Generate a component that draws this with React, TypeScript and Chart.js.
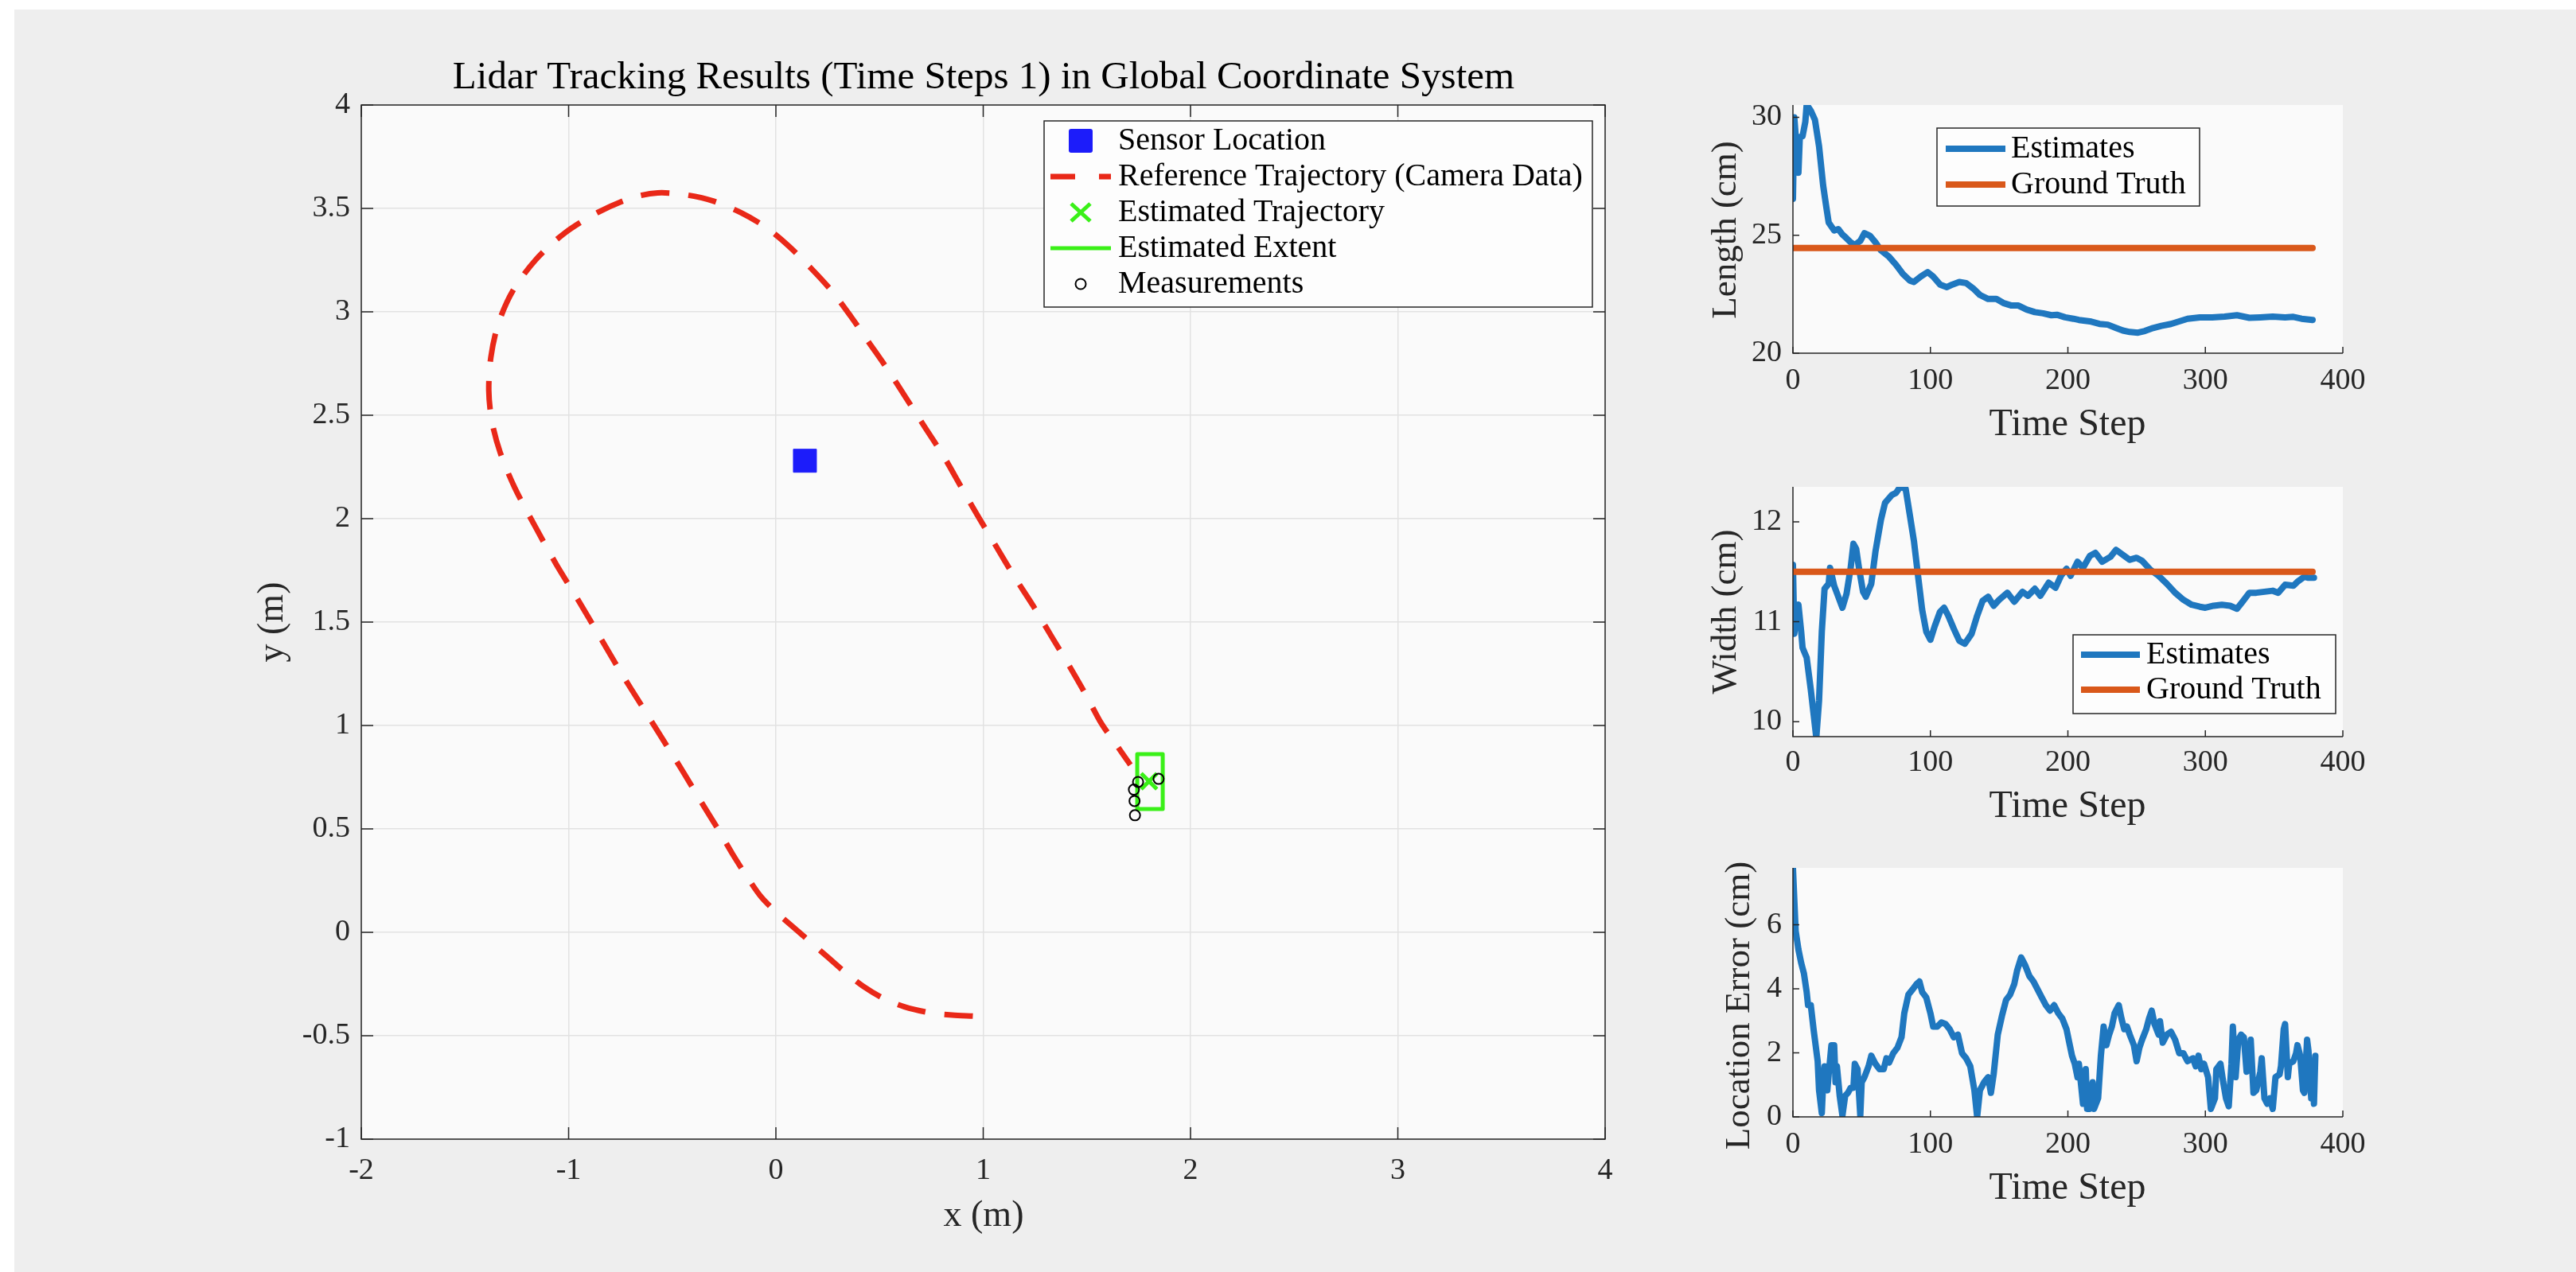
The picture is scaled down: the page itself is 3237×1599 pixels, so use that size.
import React, { useEffect, useRef } from "react";
import { Chart, registerables } from "chart.js";

Chart.register(...registerables);

const FONT = '"Liberation Serif", "Times New Roman", Times, serif';
const AXIS = "#262626";
const TEXT = "#262626";
const GRID = "#e2e2e2";
const BLUE = "rgb(31,119,191)";
const ORANGE = "rgb(217,88,26)";
const RED = "rgb(233,40,24)";
const GREEN = "rgb(58,240,24)";
const SENSOR = "rgb(28,28,250)";
const PLOT_BG = "#fafafa";
const FIG_BG = "#eeeeee";
const TICK_SIZE = 38;

// ---------------- Main plot data ----------------
const refX = [0.95, 0.85, 0.75, 0.62, 0.52, 0.42, 0.33, 0.25, 0.17, 0.09, 0.01, -0.07, -0.14, -0.21, -0.28, -0.36, -0.45, -0.55, -0.65, -0.75, -0.85, -0.95, -1.06, -1.16, -1.26, -1.33, -1.37, -1.385, -1.375, -1.34, -1.27, -1.16, -1.02, -0.86, -0.7, -0.57, -0.43, -0.3, -0.17, -0.05, 0.06, 0.17, 0.27, 0.36, 0.45, 0.54, 0.63, 0.72, 0.81, 0.89, 0.97, 1.06, 1.15, 1.24, 1.33, 1.42, 1.5, 1.57, 1.64, 1.71];
const refY = [-0.405, -0.4, -0.39, -0.36, -0.32, -0.26, -0.19, -0.12, -0.05, 0.02, 0.09, 0.17, 0.27, 0.38, 0.5, 0.63, 0.78, 0.94, 1.1, 1.26, 1.43, 1.6, 1.78, 1.96, 2.15, 2.32, 2.47, 2.62, 2.78, 2.94, 3.1, 3.25, 3.38, 3.48, 3.55, 3.575, 3.565, 3.535, 3.48, 3.41, 3.32, 3.21, 3.1, 2.98, 2.85, 2.72, 2.58, 2.44, 2.3, 2.16, 2.02, 1.87, 1.72, 1.58, 1.43, 1.28, 1.14, 1.01, 0.91, 0.81];
const sensorX = [0.14];
const sensorY = [2.28];
const estTrajX = [1.8];
const estTrajY = [0.73];
const extentX = [1.743, 1.866, 1.866, 1.743, 1.743];
const extentY = [0.596, 0.596, 0.862, 0.862, 0.596];
const measX = [1.747, 1.727, 1.73, 1.732, 1.846];
const measY = [0.727, 0.69, 0.635, 0.566, 0.742];
const mainXTicks = [-2, -1, 0, 1, 2, 3, 4];
const mainYTicks = [-1, -0.5, 0, 0.5, 1, 1.5, 2, 2.5, 3, 3.5, 4];

// ---------------- Length ----------------
const lenT = [0, 1, 4, 5, 7, 9, 10, 13, 16, 19, 22, 24, 26, 30, 33, 36, 39, 42, 45, 49, 52, 56, 60, 64, 70, 75, 80, 85, 88, 93, 98, 102, 107, 112, 116, 121, 126, 131, 136, 142, 148, 153, 159, 164, 170, 176, 182, 188, 192, 198, 204, 208, 216, 223, 229, 235, 240, 245, 251, 256, 262, 268, 275, 281, 287, 296, 305, 314, 323, 332, 340, 349, 358, 364, 370, 378];
const lenV = [26.54, 30.0, 27.65, 29.16, 29.2, 29.8, 30.54, 30.28, 29.89, 28.77, 27.1, 26.3, 25.54, 25.2, 25.26, 25.03, 24.87, 24.7, 24.59, 24.76, 25.09, 24.98, 24.7, 24.36, 24.08, 23.75, 23.36, 23.08, 23.02, 23.25, 23.44, 23.25, 22.91, 22.8, 22.91, 23.02, 22.97, 22.75, 22.47, 22.3, 22.3, 22.13, 22.02, 22.02, 21.85, 21.74, 21.69, 21.61, 21.63, 21.52, 21.46, 21.41, 21.35, 21.24, 21.21, 21.07, 20.96, 20.9, 20.87, 20.94, 21.07, 21.16, 21.24, 21.35, 21.46, 21.52, 21.52, 21.55, 21.61, 21.5, 21.52, 21.55, 21.52, 21.54, 21.46, 21.41];
const lenTruthT = [0, 378];
const lenTruthV = [24.46, 24.46];
const lenYTicks = [20, 25, 30];

// ---------------- Width ----------------
const widT = [0, 1, 3, 4, 6, 7, 10, 13, 15, 17, 19, 21, 23, 26, 27, 30, 33, 36, 39, 42, 44, 46, 48, 51, 53, 57, 60, 64, 67, 72, 75, 78, 82, 85, 88, 91, 94, 97, 100, 103, 107, 110, 113, 117, 121, 125, 130, 134, 138, 142, 146, 150, 156, 161, 167, 171, 176, 180, 186, 191, 195, 199, 202, 207, 211, 216, 220, 225, 231, 235, 241, 245, 250, 254, 260, 266, 272, 278, 284, 290, 296, 300, 306, 312, 318, 323, 327, 332, 337, 343, 349, 353, 358, 364, 367, 372, 375, 379];
const widV = [11.57, 10.88, 11.12, 11.17, 10.9, 10.74, 10.64, 10.32, 10.08, 9.84, 10.21, 10.9, 11.33, 11.38, 11.54, 11.36, 11.25, 11.14, 11.28, 11.54, 11.78, 11.73, 11.54, 11.3, 11.25, 11.38, 11.7, 12.02, 12.19, 12.27, 12.29, 12.35, 12.33, 12.07, 11.81, 11.46, 11.12, 10.9, 10.82, 10.95, 11.1, 11.14, 11.06, 10.93, 10.81, 10.78, 10.88, 11.06, 11.21, 11.25, 11.16, 11.22, 11.29, 11.2, 11.3, 11.26, 11.33, 11.26, 11.39, 11.34, 11.46, 11.53, 11.46, 11.6, 11.54, 11.66, 11.69, 11.6, 11.65, 11.72, 11.66, 11.62, 11.64, 11.61, 11.52, 11.46, 11.38, 11.29, 11.22, 11.17, 11.15, 11.14, 11.16, 11.17, 11.16, 11.13, 11.2, 11.29, 11.29, 11.3, 11.31, 11.29, 11.37, 11.36, 11.4, 11.45, 11.44, 11.44];
const widTruthT = [0, 378];
const widTruthV = [11.5, 11.5];
const widYTicks = [10, 11, 12];

// ---------------- Location error ----------------
const errT = [0, 2, 4, 6, 8, 10, 11, 13, 15, 18, 19, 21, 22, 23, 25, 26, 28, 30, 31, 32, 34, 36, 38, 40, 42, 44, 45, 47, 49, 50, 52, 55, 57, 60, 63, 66, 68, 70, 73, 76, 79, 81, 84, 87, 90, 92, 94, 97, 100, 102, 105, 108, 111, 114, 117, 120, 123, 126, 129, 132, 134, 136, 139, 142, 144, 146, 149, 152, 155, 158, 161, 163, 166, 169, 172, 175, 178, 181, 184, 187, 190, 193, 196, 199, 201, 203, 205, 207, 208, 210, 211, 213, 214, 216, 218, 219, 222, 224, 226, 228, 230, 232, 234, 237, 239, 241, 243, 245, 248, 250, 252, 254, 257, 259, 261, 263, 266, 267, 269, 272, 275, 278, 281, 284, 287, 291, 293, 295, 297, 299, 302, 304, 307, 308, 311, 313, 315, 317, 319, 320, 322, 324, 326, 328, 330, 332, 333, 335, 337, 340, 341, 343, 345, 347, 349, 351, 354, 355, 357, 358, 360, 361, 364, 366, 367, 369, 371, 372, 374, 375, 377, 378, 379, 380];
const errV = [7.78, 5.8, 5.23, 4.81, 4.48, 3.9, 3.49, 3.49, 2.74, 1.74, 0.83, 0.12, 1.08, 1.58, 0.83, 1.33, 2.24, 2.24, 1.08, 1.58, 0.66, 0.04, 0.66, 0.75, 0.91, 0.91, 1.66, 1.49, 0.04, 1.08, 1.24, 1.58, 1.91, 1.66, 1.49, 1.49, 1.83, 1.7, 1.99, 2.16, 2.49, 3.24, 3.82, 3.98, 4.15, 4.23, 3.9, 3.73, 3.24, 2.82, 2.82, 2.95, 2.9, 2.74, 2.49, 2.57, 1.99, 1.83, 1.58, 0.83, 0.0, 0.83, 1.08, 1.24, 0.75, 1.33, 2.57, 3.15, 3.65, 3.82, 4.15, 4.56, 4.98, 4.73, 4.4, 4.23, 3.98, 3.73, 3.49, 3.32, 3.49, 3.24, 3.07, 2.74, 2.32, 1.91, 1.66, 1.24, 1.66, 0.83, 0.41, 1.49, 0.25, 0.25, 1.08, 0.25, 0.58, 1.91, 2.82, 2.24, 2.57, 2.82, 3.24, 3.49, 3.07, 2.74, 2.82, 2.57, 2.24, 1.74, 2.16, 2.41, 2.74, 3.07, 3.32, 2.9, 2.57, 2.99, 2.32, 2.57, 2.66, 2.41, 1.99, 1.99, 1.74, 1.83, 1.58, 1.91, 1.49, 1.66, 1.24, 0.25, 0.58, 1.49, 1.66, 1.08, 0.58, 0.33, 1.66, 2.82, 1.24, 2.41, 2.57, 2.49, 1.41, 1.99, 2.41, 0.75, 0.83, 1.41, 1.83, 0.58, 0.41, 0.58, 0.25, 1.24, 1.33, 1.58, 2.74, 2.9, 1.24, 1.66, 1.74, 1.99, 2.24, 1.91, 0.83, 0.75, 2.41, 2.07, 0.58, 1.74, 0.41, 1.91];
const errYTicks = [0, 2, 4, 6];

const stepTicks = [0, 100, 200, 300, 400];

// ---------------- helpers ----------------
const pts = (xs: number[], ys: number[]) => xs.map((x, i) => ({ x, y: ys[i] }));

type TextSpec = { text: string; x: number; y: number; size: number; rot?: boolean; color?: string };
type LegendEntry = { label: string; kind: "rect" | "dash" | "cross" | "line" | "circle"; color: string; width?: number };
type LegendSpec = { x0: number; y0: number; x1: number; y1: number; rows: number[]; s0: number; s1: number; textX: number; size: number; entries: LegendEntry[] };

type PanelSpec = {
  left: number; top: number; width: number; height: number;
  yWidth: number; xHeight: number; padTop: number; padRight: number;
  xMin: number; xMax: number; yMin: number; yMax: number;
  xTicks: number[]; yTicks: number[];
  box: boolean; grid: boolean; tickLen: number;
  xLabelY: number; yLabelRight: number;
  texts: TextSpec[]; legend?: LegendSpec; datasets: any[];
};

function panelPlugin(p: PanelSpec) {
  return {
    id: "panelDecor",
    beforeDraw(chart: any) {
      const { ctx, chartArea: a } = chart;
      ctx.save();
      ctx.fillStyle = PLOT_BG;
      ctx.fillRect(a.left, a.top, a.right - a.left, a.bottom - a.top);
      ctx.restore();
    },
    afterDraw(chart: any) {
      const { ctx, chartArea: a, scales } = chart;
      const xs = scales.x;
      const ys = scales.y;
      const ox = p.left;
      const oy = p.top;
      ctx.save();
      ctx.strokeStyle = AXIS;
      ctx.lineWidth = 1.5;
      ctx.setLineDash([]);
      ctx.beginPath();
      if (p.box) {
        ctx.rect(a.left, a.top, a.right - a.left, a.bottom - a.top);
      } else {
        ctx.moveTo(a.left, a.top);
        ctx.lineTo(a.left, a.bottom);
        ctx.lineTo(a.right, a.bottom);
      }
      ctx.stroke();
      ctx.beginPath();
      for (const v of p.xTicks) {
        const px = xs.getPixelForValue(v);
        ctx.moveTo(px, a.bottom);
        ctx.lineTo(px, a.bottom - p.tickLen);
        if (p.box) {
          ctx.moveTo(px, a.top);
          ctx.lineTo(px, a.top + p.tickLen);
        }
      }
      for (const v of p.yTicks) {
        const py = ys.getPixelForValue(v);
        ctx.moveTo(a.left, py);
        ctx.lineTo(a.left + p.tickLen, py);
        if (p.box) {
          ctx.moveTo(a.right, py);
          ctx.lineTo(a.right - p.tickLen, py);
        }
      }
      ctx.stroke();

      ctx.fillStyle = TEXT;
      ctx.font = `${TICK_SIZE}px ${FONT}`;
      ctx.textAlign = "center";
      ctx.textBaseline = "middle";
      for (const v of p.xTicks) ctx.fillText(String(v), xs.getPixelForValue(v), p.xLabelY - oy);
      ctx.textAlign = "right";
      for (const v of p.yTicks) ctx.fillText(String(v), p.yLabelRight - ox, ys.getPixelForValue(v));

      for (const t of p.texts) {
        ctx.save();
        ctx.fillStyle = t.color || TEXT;
        ctx.font = `${t.size}px ${FONT}`;
        ctx.textAlign = "center";
        ctx.textBaseline = "alphabetic";
        ctx.translate(t.x - ox, t.y - oy);
        if (t.rot) ctx.rotate(-Math.PI / 2);
        ctx.fillText(t.text, 0, 0);
        ctx.restore();
      }

      const L = p.legend;
      if (L) {
        const bx = L.x0 - ox, by = L.y0 - oy, bw = L.x1 - L.x0, bh = L.y1 - L.y0;
        ctx.fillStyle = "#fdfdfd";
        ctx.fillRect(bx, by, bw, bh);
        ctx.strokeStyle = AXIS;
        ctx.lineWidth = 1.5;
        ctx.strokeRect(bx, by, bw, bh);
        const s0 = L.s0 - ox, s1 = L.s1 - ox, cx = (s0 + s1) / 2;
        L.entries.forEach((e, i) => {
          const y = L.rows[i] - oy;
          ctx.save();
          ctx.strokeStyle = e.color;
          ctx.fillStyle = e.color;
          ctx.lineCap = "butt";
          if (e.kind === "rect") {
            ctx.beginPath();
            ctx.roundRect(cx - 15, y - 15, 30, 30, 3);
            ctx.fill();
          } else if (e.kind === "dash") {
            ctx.lineWidth = e.width || 7;
            ctx.setLineDash([31, 30]);
            ctx.beginPath();
            ctx.moveTo(s0, y);
            ctx.lineTo(s1, y);
            ctx.stroke();
          } else if (e.kind === "line") {
            ctx.lineWidth = e.width || 5;
            ctx.beginPath();
            ctx.moveTo(s0, y);
            ctx.lineTo(s1, y);
            ctx.stroke();
          } else if (e.kind === "cross") {
            ctx.lineWidth = 5;
            ctx.beginPath();
            ctx.moveTo(cx - 12, y - 11);
            ctx.lineTo(cx + 12, y + 11);
            ctx.moveTo(cx + 12, y - 11);
            ctx.lineTo(cx - 12, y + 11);
            ctx.stroke();
          } else if (e.kind === "circle") {
            ctx.lineWidth = 2;
            ctx.beginPath();
            ctx.arc(cx, y, 6.5, 0, Math.PI * 2);
            ctx.stroke();
          }
          ctx.restore();
          ctx.fillStyle = "#000";
          ctx.font = `${L.size}px ${FONT}`;
          ctx.textAlign = "left";
          ctx.textBaseline = "middle";
          ctx.fillText(e.label, L.textX - ox, y);
        });
      }
      ctx.restore();
    },
  };
}

function buildConfig(p: PanelSpec): any {
  return {
    type: "scatter",
    data: { datasets: p.datasets },
    options: {
      responsive: false,
      maintainAspectRatio: false,
      animation: false,
      devicePixelRatio: 1,
      events: [],
      layout: { padding: { left: 0, top: p.padTop, right: p.padRight, bottom: 0 } },
      plugins: { legend: { display: false }, title: { display: false }, tooltip: { enabled: false } },
      scales: {
        x: {
          type: "linear", position: "bottom", min: p.xMin, max: p.xMax,
          afterBuildTicks: (s: any) => { s.ticks = p.xTicks.map((v) => ({ value: v })); },
          afterFit: (s: any) => { s.height = p.xHeight; },
          ticks: { display: false },
          grid: { display: p.grid, color: GRID, lineWidth: 1.5, drawTicks: false },
          border: { display: false },
        },
        y: {
          type: "linear", position: "left", min: p.yMin, max: p.yMax,
          afterBuildTicks: (s: any) => { s.ticks = p.yTicks.map((v) => ({ value: v })); },
          afterFit: (s: any) => { s.width = p.yWidth; },
          ticks: { display: false },
          grid: { display: p.grid, color: GRID, lineWidth: 1.5, drawTicks: false },
          border: { display: false },
        },
      },
    },
    plugins: [panelPlugin(p)],
  };
}

const seriesLine = (data: any[], color: string, order: number) => ({
  data, showLine: true, borderColor: color, backgroundColor: color, borderWidth: 8,
  pointRadius: 0, borderJoinStyle: "round", borderCapStyle: "round", tension: 0, order,
});

const MAIN: PanelSpec = {
  left: 150, top: 12, width: 1920, height: 1587,
  yWidth: 304, xHeight: 167, padTop: 120, padRight: 53,
  xMin: -2, xMax: 4, yMin: -1, yMax: 4,
  xTicks: mainXTicks, yTicks: mainYTicks,
  box: true, grid: true, tickLen: 15,
  xLabelY: 1472, yLabelRight: 440,
  texts: [
    { text: "Lidar Tracking Results (Time Steps 1) in Global Coordinate System", x: 1236, y: 111, size: 49, color: "#000" },
    { text: "x (m)", x: 1236, y: 1541, size: 46 },
    { text: "y (m)", x: 355, y: 782, size: 46, rot: true },
  ],
  legend: {
    x0: 1312, y0: 152, x1: 2001, y1: 386, rows: [177, 222, 267, 312, 357], s0: 1320, s1: 1396, textX: 1405, size: 40,
    entries: [
      { label: "Sensor Location", kind: "rect", color: SENSOR },
      { label: "Reference Trajectory (Camera Data)", kind: "dash", color: RED, width: 7 },
      { label: "Estimated Trajectory", kind: "cross", color: GREEN },
      { label: "Estimated Extent", kind: "line", color: GREEN, width: 5 },
      { label: "Measurements", kind: "circle", color: "#000" },
    ],
  },
  datasets: [
    { label: "Measurements", data: pts(measX, measY), pointStyle: "circle", pointRadius: 6.5, borderColor: "#000", backgroundColor: "rgba(0,0,0,0)", borderWidth: 2, order: 0 },
    { label: "Estimated Trajectory", data: pts(estTrajX, estTrajY), pointStyle: "crossRot", pointRadius: 14, borderColor: GREEN, backgroundColor: GREEN, borderWidth: 5, order: 1 },
    { label: "Estimated Extent", data: pts(extentX, extentY), showLine: true, borderColor: GREEN, borderWidth: 5, pointRadius: 0, borderJoinStyle: "round", order: 2 },
    { label: "Sensor Location", data: pts(sensorX, sensorY), pointStyle: "rect", pointRadius: 20.5, backgroundColor: SENSOR, borderColor: SENSOR, borderWidth: 1, order: 3 },
    { label: "Reference Trajectory (Camera Data)", data: pts(refX, refY), showLine: true, borderColor: RED, borderWidth: 7, borderDash: [36, 24], borderCapStyle: "butt", pointRadius: 0, tension: 0.3, order: 4 },
  ],
};

const LENGTH: PanelSpec = {
  left: 2100, top: 100, width: 1137, height: 470,
  yWidth: 153, xHeight: 126, padTop: 32, padRight: 293,
  xMin: 0, xMax: 400, yMin: 20, yMax: 30.52,
  xTicks: stepTicks, yTicks: lenYTicks,
  box: false, grid: false, tickLen: 8,
  xLabelY: 479, yLabelRight: 2239,
  texts: [
    { text: "Length (cm)", x: 2181, y: 289, size: 45, rot: true },
    { text: "Time Step", x: 2598, y: 547, size: 48 },
  ],
  legend: {
    x0: 2434, y0: 161, x1: 2764, y1: 259, rows: [187, 232], s0: 2445, s1: 2520, textX: 2527, size: 40,
    entries: [
      { label: "Estimates", kind: "line", color: BLUE, width: 8 },
      { label: "Ground Truth", kind: "line", color: ORANGE, width: 8 },
    ],
  },
  datasets: [seriesLine(pts(lenT, lenV), BLUE, 1), seriesLine(pts(lenTruthT, lenTruthV), ORANGE, 0)],
};

const WIDTH: PanelSpec = {
  left: 2100, top: 570, width: 1137, height: 480,
  yWidth: 153, xHeight: 124, padTop: 42, padRight: 293,
  xMin: 0, xMax: 400, yMin: 9.85, yMax: 12.35,
  xTicks: stepTicks, yTicks: widYTicks,
  box: false, grid: false, tickLen: 8,
  xLabelY: 959, yLabelRight: 2239,
  texts: [
    { text: "Width (cm)", x: 2181, y: 769, size: 45, rot: true },
    { text: "Time Step", x: 2598, y: 1027, size: 48 },
  ],
  legend: {
    x0: 2605, y0: 798, x1: 2935, y1: 897, rows: [823, 867], s0: 2615, s1: 2689, textX: 2697, size: 40,
    entries: [
      { label: "Estimates", kind: "line", color: BLUE, width: 8 },
      { label: "Ground Truth", kind: "line", color: ORANGE, width: 8 },
    ],
  },
  datasets: [seriesLine(pts(widT, widV), BLUE, 1), seriesLine(pts(widTruthT, widTruthV), ORANGE, 0)],
};

const ERROR: PanelSpec = {
  left: 2100, top: 1050, width: 1137, height: 549,
  yWidth: 153, xHeight: 195, padTop: 41, padRight: 293,
  xMin: 0, xMax: 400, yMin: 0, yMax: 7.78,
  xTicks: stepTicks, yTicks: errYTicks,
  box: false, grid: false, tickLen: 8,
  xLabelY: 1439, yLabelRight: 2239,
  texts: [
    { text: "Location Error (cm)", x: 2198, y: 1264, size: 45, rot: true },
    { text: "Time Step", x: 2598, y: 1507, size: 48 },
  ],
  datasets: [seriesLine(pts(errT, errV), BLUE, 0)],
};

const PANELS = [MAIN, LENGTH, WIDTH, ERROR];

function Panel({ spec }: { spec: PanelSpec }) {
  const ref = useRef<HTMLCanvasElement>(null);
  useEffect(() => {
    if (!ref.current) return;
    const chart = new Chart(ref.current, buildConfig(spec));
    return () => chart.destroy();
  }, [spec]);
  return (
    <canvas
      ref={ref}
      width={spec.width}
      height={spec.height}
      style={{ position: "absolute", left: spec.left, top: spec.top, width: spec.width, height: spec.height, display: "block" }}
    />
  );
}

export default function App() {
  return (
    <>
      <div style={{ position: "absolute", left: 18, top: 12, width: 3219, height: 1587, background: FIG_BG }} />
      {PANELS.map((p, i) => (
        <Panel key={i} spec={p} />
      ))}
    </>
  );
}
